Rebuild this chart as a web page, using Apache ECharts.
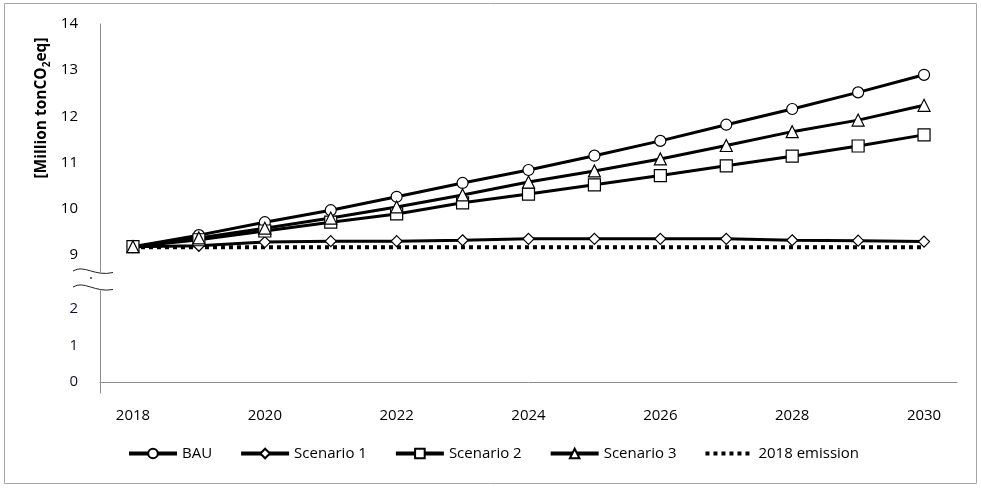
<!DOCTYPE html>
<html>
<head>
<meta charset="utf-8">
<script src="https://cdn.jsdelivr.net/npm/echarts@6/dist/echarts.min.js"></script>
<style>html,body{margin:0;padding:0;background:#fff;}#c{width:981px;height:488px;}</style>
</head>
<body>
<div id="c"></div>
<script>
const years = ['2018','2019','2020','2021','2022','2023','2024','2025','2026','2027','2028','2029','2030'];
const bau = [9.18, 9.43, 9.71, 9.97, 10.26, 10.56, 10.84, 11.15, 11.47, 11.82, 12.16, 12.52, 12.90];
const scenario1 = [9.18, 9.20, 9.28, 9.30, 9.30, 9.32, 9.35, 9.35, 9.35, 9.35, 9.32, 9.31, 9.29];
const scenario2 = [9.18, 9.33, 9.52, 9.71, 9.89, 10.13, 10.32, 10.52, 10.72, 10.93, 11.14, 11.36, 11.60];
const scenario3 = [9.18, 9.37, 9.58, 9.80, 10.04, 10.30, 10.58, 10.82, 11.08, 11.37, 11.67, 11.92, 12.24];
const emission2018 = [9.17, 9.17, 9.17, 9.17, 9.17, 9.17, 9.17, 9.17, 9.17, 9.17, 9.17, 9.17, 9.17];
const upperTicks = [9, 10, 11, 12, 13, 14];
const lowerTicks = [0, 1, 2];
const seriesNames = ['BAU', 'Scenario 1', 'Scenario 2', 'Scenario 3', '2018 emission'];

const FONT = '"Open Sans", "Noto Sans", sans-serif';
const chart = echarts.init(document.getElementById('c'), null, {renderer: 'canvas'});

function lineSeries(name, data, symbol, size) {
  return {
    name: name, type: 'line', data: data,
    xAxisIndex: 0, yAxisIndex: 0,
    symbol: symbol, symbolSize: size, showSymbol: true,
    lineStyle: {color: '#000', width: 3},
    itemStyle: {color: '#fff', borderColor: '#000', borderWidth: 1.2},
    emphasis: {disabled: true},
    animation: false
  };
}

const axisLineStyle = {show: true, lineStyle: {color: '#8c8c8c', width: 1}};

const option = {
  animation: false,
  backgroundColor: '#fff',
  grid: [
    {left: 100, right: 24, top: 24, bottom: 214.5},
    {left: 100, right: 24, top: 290.75, bottom: 95}
  ],
  xAxis: [
    {type: 'category', gridIndex: 0, data: years, boundaryGap: true, show: false},
    {type: 'category', gridIndex: 1, data: years, boundaryGap: true,
     axisLine: axisLineStyle, axisTick: {show: false},
     axisLabel: {interval: 1, color: '#000', fontFamily: FONT, fontSize: 15, margin: 15}}
  ],
  yAxis: [
    {type: 'value', gridIndex: 0, min: 8.6, max: 14,
     axisLine: axisLineStyle, axisTick: {show: false}, splitLine: {show: false},
     axisLabel: {customValues: upperTicks, color: '#000', fontFamily: FONT, fontSize: 15, margin: 22}},
    {type: 'value', gridIndex: 1, min: -0.3, max: 2.5,
     axisLine: axisLineStyle, axisTick: {show: false}, splitLine: {show: false},
     axisLabel: {customValues: lowerTicks, color: '#111133', fontFamily: FONT, fontSize: 15, margin: 22}}
  ],
  legend: {
    data: [
      {name: seriesNames[0]},
      {name: seriesNames[1]},
      {name: seriesNames[2]},
      {name: seriesNames[3]},
      {name: seriesNames[4], itemStyle: {opacity: 0}}
    ],
    left: 122, top: 441,
    itemWidth: 48, itemHeight: 12, itemGap: 27,
    lineStyle: {width: 4},
    textStyle: {color: '#000', fontFamily: FONT, fontSize: 15},
    selectedMode: false
  },
  graphic: [
    {type: 'rect', shape: {x: 4.5, y: 3.5, width: 972, height: 480},
     style: {fill: 'none', stroke: '#a6a6a6', lineWidth: 1}, silent: true},
    {type: 'text', x: 42, y: 108, rotation: Math.PI / 2,
     style: {
       text: '{a|[Million tonCO}{s|2}{a|eq]}',
       align: 'center', verticalAlign: 'middle', fill: '#000',
       rich: {
         a: {fontFamily: FONT, fontSize: 15.5, fontWeight: 'bold', lineHeight: 20, fill: '#000'},
         s: {fontFamily: FONT, fontSize: 10, fontWeight: 'bold', lineHeight: 10, verticalAlign: 'bottom', fill: '#000'}
       }
     }, silent: true},
    {type: 'bezierCurve', shape: {x1: 73, y1: 271, cpx1: 84, cpy1: 264, cpx2: 95, cpy2: 277, x2: 113, y2: 272.5},
     style: {fill: 'none', stroke: '#222', lineWidth: 1}, silent: true},
    {type: 'bezierCurve', shape: {x1: 73, y1: 287, cpx1: 84, cpy1: 280, cpx2: 95, cpy2: 293, x2: 113, y2: 289.5},
     style: {fill: 'none', stroke: '#222', lineWidth: 1}, silent: true},
    {type: 'circle', shape: {cx: 91, cy: 278, r: 0.9}, style: {fill: '#222'}, silent: true}
  ],
  series: [
    lineSeries(seriesNames[0], bau, 'circle', 11),
    lineSeries(seriesNames[1], scenario1, 'diamond', 11),
    lineSeries(seriesNames[2], scenario2, 'rect', 12),
    lineSeries(seriesNames[3], scenario3, 'triangle', 12),
    {
      name: seriesNames[4], type: 'line', data: emission2018,
      xAxisIndex: 0, yAxisIndex: 0, symbol: 'none',
      lineStyle: {color: '#000', width: 4, type: [4, 4], cap: 'butt'},
      itemStyle: {color: '#000'},
      emphasis: {disabled: true}, animation: false
    }
  ]
};
chart.setOption(option);
</script>
</body>
</html>
